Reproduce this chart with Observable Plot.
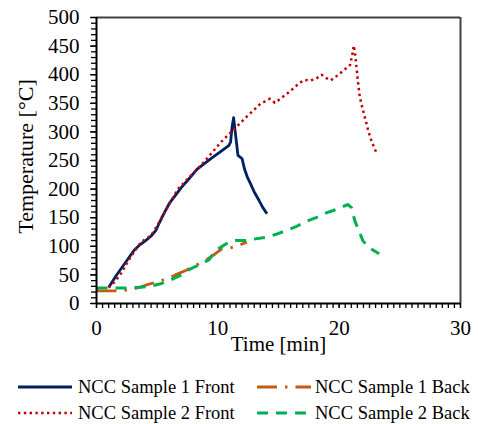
<!DOCTYPE html>
<html><head><meta charset="utf-8">
<script src="https://cdn.jsdelivr.net/npm/d3@7"></script>
<script src="https://cdn.jsdelivr.net/npm/@observablehq/plot@0.6"></script>
<style>
body{margin:0;background:#fff;}
#wrap{position:relative;width:478px;height:424px;font-family:"Liberation Serif","Times New Roman",serif;overflow:hidden;}
.lg{position:absolute;font-size:18.5px;line-height:20px;color:#000;white-space:nowrap;}
.sw{position:absolute;overflow:visible;}
</style></head><body><div id="wrap"></div>
<script>
// ---- data ----
const seriesNames = ["NCC Sample 1 Front", "NCC Sample 1 Back", "NCC Sample 2 Front", "NCC Sample 2 Back"];

const s1FrontT = [1.0,1.6,2.3,3.1,3.6,4.05,4.5,4.9,5.2,5.55,6.0,6.5,7.0,7.5,8.3,9.4,10.2,10.9,11.05,11.17,11.3,11.45,11.66,12.0,12.2,12.45,12.7,13.0,13.4,13.7,14.05];
const s1FrontV = [28,48,69,93,103,110,118,128,142,157,175,189,203,215,235,253,265,276,282,308,325,297,259,253,235,220,209,195,180,168,157];

const s1BackT = [0,1.9,2.8,3.5,4.2,5.0,5.8,6.5,7.4,8.3,9.1,9.8,10.3,10.8,11.5,12.4];
const s1BackV = [22,22,24,28,33,38,43,50,58,68,77,87,95,96,100,107];

const s2FrontT = [1.0,1.5,2.0,2.8,3.65,4.5,5.0,5.85,6.7,7.8,8.85,10.25,11.35,12.4,13.5,14.3,14.7,15.1,15.95,16.7,17.15,17.65,18.1,18.55,18.95,19.3,19.7,20.45,20.9,21.1,21.2,21.3,21.4,21.55,21.7,21.9,22.15,22.4,22.7,23.1];
const s2FrontV = [28,38,52,81,107,119,136,168,200,224,247,282,305,327,349,358,351,357,371,385,391,390,393,400,394,390,396,409,417,437,451,439,419,387,361,343,323,302,282,262];

const s2BackT = [0,2.2,3.4,4.4,5.2,6.1,7.0,7.7,8.5,9.25,9.6,10.0,10.5,11.0,11.5,12.3,13.1,14.05,14.8,15.7,16.5,17.35,18.2,19.0,19.85,20.7,21.0,21.3,21.65,21.95,22.3,22.6,23.3];
const s2BackV = [27,27,28,30,34,41,50,60,68,76,86,95,102,108,110,110,113,116,121,128,135,144,151,159,165,173,168,144,126,110,101,96,87];

const xTickLabels = [0,10,20,30];
const yTickLabels = [0,50,100,150,200,250,300,350,400,450,500];
const xMinorTicks = d3.range(0, 30.01, 0.5);
const yMinorTicks = d3.range(0, 501, 10);

const xLabel = "Time [min]";
const yLabel = "Temperature [°C]";

// ---- styles ----
const FONT = '"Liberation Serif","Times New Roman",serif';
const styles = [
  {stroke:"#002060", strokeWidth:2.8, dash:null},
  {stroke:"#C55A11", strokeWidth:2.8, dash:"20,8,2.5,8"},
  {stroke:"#C00000", strokeWidth:2.5, dash:"2.4,3.4"},
  {stroke:"#00B050", strokeWidth:3, dash:"11,8"}
];

const rows = (t, v) => t.map((d, i) => ({t: d, v: v[i]}));
const data = [rows(s1FrontT, s1FrontV), rows(s1BackT, s1BackV), rows(s2FrontT, s2FrontV), rows(s2BackT, s2BackV)];

const lineMarks = data.map((d, i) => Plot.line(d, {
  x: "t", y: "v", stroke: styles[i].stroke, strokeWidth: styles[i].strokeWidth,
  strokeDasharray: styles[i].dash ?? undefined, strokeLinecap: "butt", strokeLinejoin: "round"
}));

const chart = Plot.plot({
  width: 478, height: 372,
  marginLeft: 96, marginRight: 18, marginTop: 17, marginBottom: 69,
  style: {fontFamily: FONT, fontSize: "21px", color: "#000", background: "#fff", overflow: "visible"},
  x: {domain: [0, 30]},
  y: {domain: [0, 500]},
  marks: [
    Plot.ruleY([500], {stroke: "#404040", strokeWidth: 2}),
    Plot.ruleX([30], {stroke: "#404040", strokeWidth: 2}),
    Plot.axisY(yMinorTicks, {tickSize: 5, tickFormat: () => "", label: null, strokeWidth: 1.3}),
    Plot.axisY(yTickLabels, {tickSize: 6, tickPadding: 11, label: null, strokeWidth: 1.3, fontFamily: FONT, fontSize: 21, fill: "#000"}),
    Plot.axisX(xMinorTicks, {tickSize: 5, tickFormat: () => "", label: null, strokeWidth: 1.3}),
    Plot.axisX(xTickLabels, {tickSize: 5, tickPadding: 12, label: null, strokeWidth: 1.3, fontFamily: FONT, fontSize: 21, fill: "#000"}),
    ...lineMarks,
    Plot.ruleX([0], {stroke: "#000", strokeWidth: 2}),
    Plot.ruleY([0], {stroke: "#000", strokeWidth: 2}),
    Plot.text([yLabel], {frameAnchor: "left", dx: -71, dy: -4, rotate: -90, textAnchor: "middle", lineAnchor: "middle", fontSize: 22, fontFamily: FONT, fill: "#000"}),
    Plot.text([xLabel], {frameAnchor: "bottom", dy: 41, textAnchor: "middle", lineAnchor: "middle", fontSize: 21, fontFamily: FONT, fill: "#000"})
  ]
});
const wrap = document.getElementById("wrap");
wrap.appendChild(chart);

// ---- legend ----
const legendPos = [
  {lx: 18, tx: 78, y: 387},
  {lx: 257, tx: 315, y: 387},
  {lx: 18, tx: 78, y: 413},
  {lx: 257, tx: 315, y: 413}
];
seriesNames.forEach((name, i) => {
  const p = legendPos[i], s = styles[i];
  const svg = d3.select(wrap).append("svg").attr("class", "sw")
    .attr("width", 56).attr("height", 10)
    .style("left", p.lx + "px").style("top", (p.y - 5) + "px");
  svg.append("line").attr("x1", 0).attr("x2", 54).attr("y1", 5).attr("y2", 5)
    .attr("stroke", s.stroke).attr("stroke-width", s.strokeWidth)
    .attr("stroke-dasharray", s.dash).attr("stroke-linecap", "butt");
  d3.select(wrap).append("div").attr("class", "lg")
    .style("left", p.tx + "px").style("top", (p.y - 10) + "px").text(name);
});
</script></body></html>
